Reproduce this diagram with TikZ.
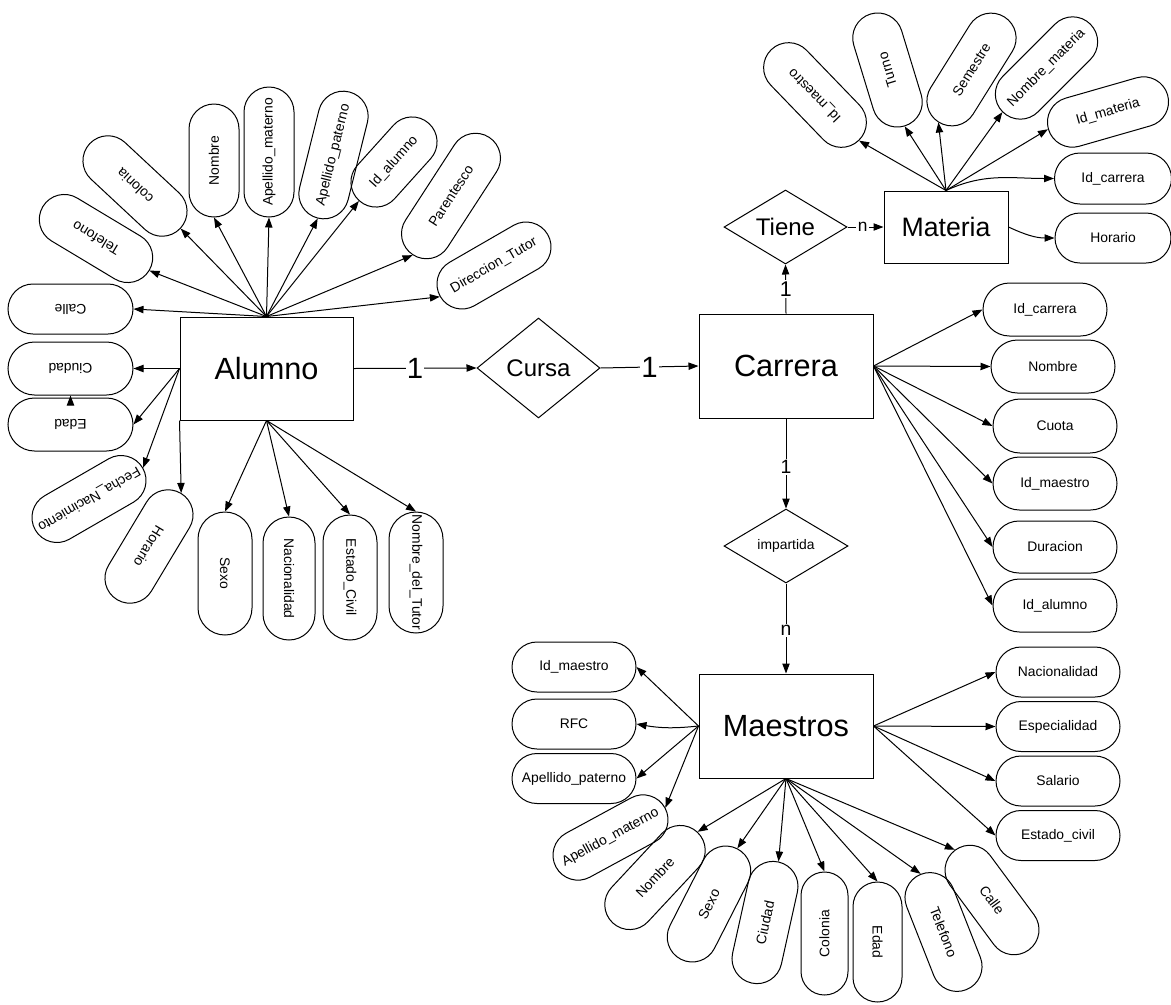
\documentclass[tikz,border=0pt]{standalone}
\usepackage{fontspec}
\setmainfont{Liberation Sans}
\usetikzlibrary{shapes.misc,shapes.geometric,arrows.meta}

% zero-width box so long labels never widen their shape
\newcommand\zw[1]{\makebox[0pt]{#1}}
\newcommand\attrfont{\fontsize{10.4}{12}\selectfont}

\tikzset{
  ent/.style={draw, line width=0.75pt, rectangle, inner sep=0pt},
  rel/.style={draw, line width=0.75pt, diamond, inner sep=0pt},
  attr/.style={draw, line width=0.75pt, rounded rectangle, inner sep=0pt,
               minimum width=93pt, minimum height=37.5pt, font=\attrfont},
  sz/.style 2 args={minimum width=#1*0.75pt, minimum height=#2*0.75pt},
  arr/.style={-{Triangle[length=7.5pt,width=5.5pt]}, line width=0.75pt},
  card/.style={fill=white, inner sep=1pt},
}

\begin{document}
\begin{tikzpicture}[x=0.75pt,y=0.75pt]
\useasboundingbox (0,0) rectangle (1171,-1004);

% ---------- entities and relationships ----------
\node[ent, sz={173}{103}, font=\fontsize{23}{26}\selectfont] (alumno) at (266.5,-368.5) {Alumno};
\node[ent, sz={174}{104}, font=\fontsize{23}{26}\selectfont] (carrera) at (786,-366) {Carrera};
\node[ent, sz={174}{104}, font=\fontsize{23}{26}\selectfont] (maestros) at (786,-726) {Maestros};
\node[ent, sz={124}{72}, font=\fontsize{20}{22}\selectfont] (materia) at (946,-227) {Materia};
\node[rel, sz={123}{100}, font=\fontsize{18}{20}\selectfont] (cursa) at (538.5,-368) {\zw{Cursa}};
\node[rel, sz={123}{74}, font=\fontsize{18}{20}\selectfont] (tiene) at (785.5,-227) {\zw{Tiene}};
\node[rel, sz={124}{74}, font=\attrfont] (impartida) at (786,-546) {\zw{impartida}};

% ---------- relationship lines with cardinalities ----------
\draw[arr] (alumno.east) -- node[card, font=\fontsize{22}{24}\selectfont]{1} (cursa.west);
\draw[arr] (cursa.east) -- node[card, font=\fontsize{22}{24}\selectfont]{1} (carrera.west);
\draw[arr] (carrera.north) -- node[card, font=\fontsize{16}{18}\selectfont]{1} (tiene.south);
\draw[arr] (tiene.east) -- node[card, pos=0.42, font=\fontsize{13}{15}\selectfont]{n} (materia.west);
\draw[arr] (carrera.south) -- node[card, pos=0.54, font=\fontsize{14.5}{16}\selectfont]{1} (impartida.north);
\draw[arr] (impartida.south) -- node[card, pos=0.52, font=\fontsize{14.5}{16}\selectfont]{n} (maestros.north);

% ---------- Alumno attributes ----------
\node[attr, sz={125}{50}, rotate=180] (calleA) at (70.5,-309) {\zw{Calle}};
\node[attr, sz={124}{50}, rotate=149] (telA) at (96,-238.5) {\zw{Telefono}};
\node[attr, sz={124}{50}, rotate=137] (colA) at (135,-186) {\zw{colonia}};
\node[attr, sz={113}{50}, rotate=90] (nomA) at (214,-160.5) {\zw{Nombre}};
\node[attr, sz={130}{50}, rotate=90] (amatA) at (269,-152) {\zw{Apellido\_materno}};
\node[attr, sz={130}{50}, rotate=76] (apatA) at (333.5,-155) {\zw{Apellido\_paterno}};
\node[attr, sz={104}{50}, rotate=48] (idA) at (394,-162) {\zw{Id\_alumno}};
\node[attr, sz={140}{50}, rotate=57] (parA) at (451,-196) {\zw{Parentesco}};
\node[attr, sz={124}{50}, rotate=30] (dirA) at (494,-265.5) {\zw{Direccion\_Tutor}};
\node[attr, sz={125}{53}, rotate=180] (ciuA) at (70.5,-368.5) {\zw{Ciudad}};
\node[attr, sz={125}{53}, rotate=180] (edaA) at (70.5,-424.5) {\zw{Edad}};
\node[attr, sz={124}{50}, rotate=-150] (fecA) at (89,-499) {\zw{Fecha\_Nacimiento}};
\node[attr, sz={124}{50}, rotate=-121] (horA) at (149,-546.5) {\zw{Horario}};
\node[attr, sz={123}{54}, rotate=-90] (sexA) at (225,-573.5) {\zw{Sexo}};
\node[attr, sz={123}{52}, rotate=-90] (nacA) at (289,-578.5) {\zw{Nacionalidad}};
\node[attr, sz={125}{54}, rotate=-90] (estA) at (350,-577.5) {\zw{Estado\_Civil}};
\node[attr, sz={121}{54}, rotate=-90] (ntuA) at (416,-572.5) {\zw{Nombre\_del\_Tutor}};

\foreach \nm in {calleA,telA,colA,nomA,amatA,apatA,idA,parA,dirA}
  \draw[arr] (alumno.north) -- (\nm.west);
\foreach \nm in {ciuA,edaA,fecA}
  \draw[arr] (alumno.west) -- (\nm.west);
\draw[arr] (alumno.south west) -- (horA.west);
\foreach \nm in {sexA,nacA,estA,ntuA}
  \draw[arr] (alumno.south) -- (\nm.west);
\draw[arr] ([yshift=-4.5pt]edaA.south) -- (ciuA.north);

% ---------- Materia attributes ----------
\node[attr, sz={126}{50}, rotate=134] (idmM) at (815,-95) {\zw{Id\_maestro}};
\node[attr, sz={117}{50}, rotate=107] (turM) at (887.5,-70) {\zw{Turno}};
\node[attr, sz={124}{50}, rotate=58] (semM) at (971.5,-69.5) {\zw{Semestre}};
\node[attr, sz={124}{50}, rotate=45] (nmM) at (1046.5,-68) {\zw{Nombre\_materia}};
\node[attr, sz={124}{50}, rotate=16] (idmatM) at (1108,-112) {\zw{Id\_materia}};
\node[attr, sz={117}{51}] (idcM) at (1113,-178.5) {\zw{Id\_carrera}};
\node[attr, sz={116}{50}] (horM) at (1113,-238) {\zw{Horario}};

\draw[arr] (materia.north) -- (idmM.west);
\draw[arr] (materia.north) -- (turM.west);
\draw[arr] (materia.north) -- (semM.west);
\draw[arr] (materia.north) -- (nmM.west);
\draw[arr] (materia.north) -- (idmatM.west);
\draw[arr] (materia.north) to[out=25,in=180] (idcM.west);
\draw[arr] (materia.east) to[out=-25,in=180] (horM.west);

% ---------- Carrera attributes ----------
\node[attr, sz={124}{53}] (idcC) at (1045,-309.5) {\zw{Id\_carrera}};
\node[attr, sz={124}{53}] (nomC) at (1053,-366.5) {\zw{Nombre}};
\node[attr, sz={124}{54}] (cuoC) at (1055,-426) {\zw{Cuota}};
\node[attr, sz={124}{53}] (idmC) at (1055,-483.5) {\zw{Id\_maestro}};
\node[attr, sz={124}{52}] (durC) at (1055,-547) {\zw{Duracion}};
\node[attr, sz={124}{53}] (idaC) at (1055,-605.5) {\zw{Id\_alumno}};

\foreach \nm in {idcC,nomC,cuoC,idmC,durC,idaC}
  \draw[arr] (carrera.east) -- (\nm.west);

% ---------- Maestros attributes ----------
\node[attr, sz={124}{50}] (nacM) at (1058,-672) {\zw{Nacionalidad}};
\node[attr, sz={124}{50}] (espM) at (1058,-726.5) {\zw{Especialidad}};
\node[attr, sz={124}{50}] (salM) at (1058,-781) {\zw{Salario}};
\node[attr, sz={124}{50}] (estM) at (1058,-835.5) {\zw{Estado\_civil}};

\node[attr, sz={124}{50}] (idmL) at (574,-667) {\zw{Id\_maestro}};
\node[attr, sz={124}{50}] (rfcL) at (574,-724) {\zw{RFC}};
\node[attr, sz={124}{50}] (apaL) at (574,-778.5) {\zw{Apellido\_paterno}};
\node[attr, sz={124}{50}, rotate=28.5] (amaL) at (610.5,-837.5) {\zw{Apellido\_materno}};

\node[attr, sz={124}{50}, rotate=47] (nomB) at (655,-877.5) {\zw{Nombre}};
\node[attr, sz={124}{50}, rotate=63] (sexB) at (709,-904) {\zw{Sexo}};
\node[attr, sz={124}{50}, rotate=77.5] (ciuB) at (765,-922.5) {\zw{Ciudad}};
\node[attr, sz={123}{47}, rotate=90] (colB) at (824.5,-933.5) {\zw{Colonia}};
\node[attr, sz={120}{49}, rotate=-90] (edaB) at (877.5,-942) {\zw{Edad}};
\node[attr, sz={124}{50}, rotate=-68.5] (telB) at (943.5,-932) {\zw{Telefono}};
\node[attr, sz={124}{50}, rotate=-53.5] (calB) at (992,-900) {\zw{Calle}};

\foreach \nm in {nacM,espM,salM,estM}
  \draw[arr] (maestros.east) -- (\nm.west);
\draw[arr] (maestros.west) -- (idmL.east);
\draw[arr] (maestros.west) to[bend left=8] (rfcL.east);
\draw[arr] (maestros.west) -- (apaL.east);
\draw[arr] (maestros.west) -- (amaL.east);
\foreach \nm in {nomB,sexB,ciuB,colB}
  \draw[arr] (maestros.south) -- (\nm.east);
\foreach \nm in {edaB,telB,calB}
  \draw[arr] (maestros.south) -- (\nm.west);
\end{tikzpicture}
\end{document}
